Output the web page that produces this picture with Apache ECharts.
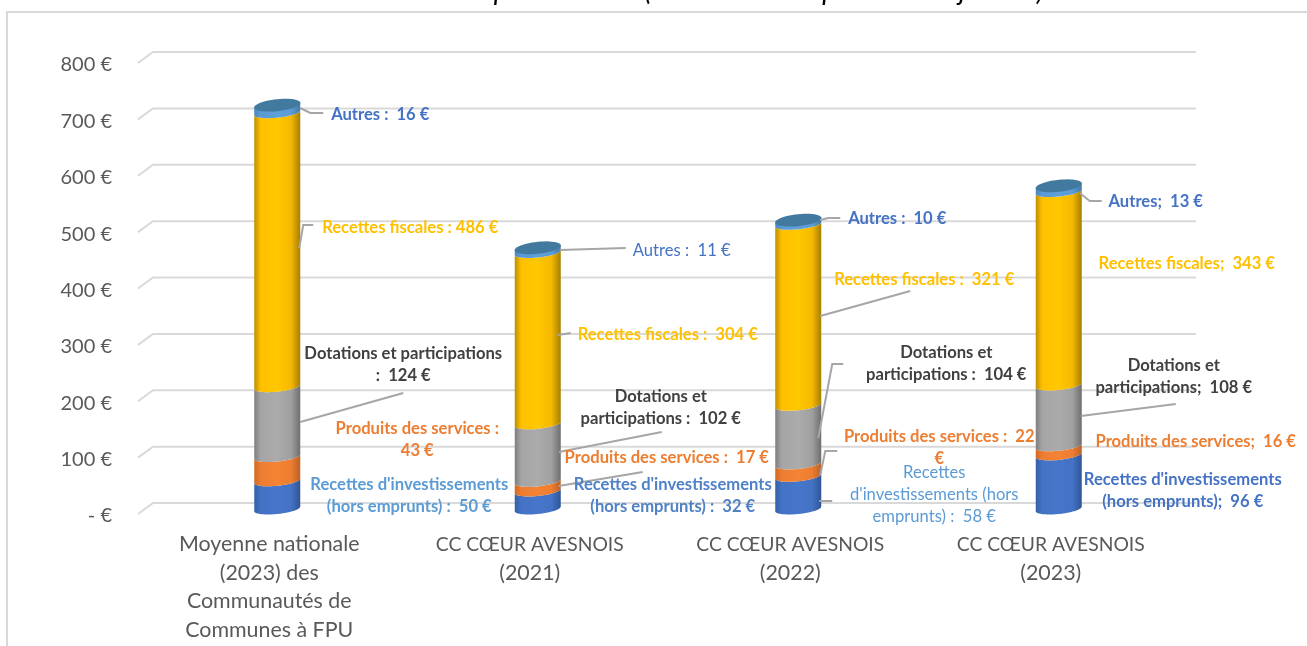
<!DOCTYPE html>
<html>
<head>
<meta charset="utf-8">
<style>
html, body { margin: 0; padding: 0; background: #fff; overflow: hidden; }
#chart { width: 1307px; height: 646px; }
</style>
<script src="https://cdn.jsdelivr.net/npm/echarts@6/dist/echarts.min.js"></script>
</head>
<body>
<div id="chart"></div>
<script>
const categories = [
    'Moyenne nationale\n(2023) des\nCommunautés de\nCommunes à FPU',
    'CC CŒUR AVESNOIS\n(2021)',
    'CC CŒUR AVESNOIS\n(2022)',
    'CC CŒUR AVESNOIS\n(2023)'
];
const yTicks = [0, 100, 200, 300, 400, 500, 600, 700, 800];
const investissements = [50, 32, 58, 96];
const produits = [43, 17, 22, 16];
const dotations = [124, 102, 104, 108];
const fiscales = [486, 304, 321, 343];
const autres = [16, 11, 10, 13];

const segments = [investissements, produits, dotations, fiscales, autres];
const segmentNames = ["Recettes d'investissements (hors emprunts)", 'Produits des services', 'Dotations et participations', 'Recettes fiscales', 'Autres'];
// left edge, left shade, centre, right shade, right edge
const segmentShades = [
    ['#3560a8', '#4472c4', '#4676ca', '#4472c4', '#2f5597'],
    ['#d06a24', '#ed7d31', '#f58334', '#ed7d31', '#b96226'],
    ['#7e7e7e', '#a5a5a5', '#ababab', '#a0a0a0', '#6e6e6e'],
    ['#bd8f00', '#ffc000', '#ffc800', '#f5b800', '#a67f00'],
    ['#4a86bd', '#5b9bd5', '#5fa0da', '#5b9bd5', '#437aa8']
];

const BLUE = '#4472c4', SKY = '#5b9bd5', ORANGE = '#ed7d31', YELLOW = '#ffc000', DARK = '#404040';

// label positions: offsets in px from the foot of each bar
const labelLayout = [
    { cat: 0, seg: 4, x: 103, y: -399, lines: ['Autres :  {v} €'], color: BLUE, weight: 'bold', leader: [[23, -406], [33, -401], [46, -401]] },
    { cat: 0, seg: 3, x: 133, y: -286, lines: ['Recettes fiscales : {v} €'], color: YELLOW, weight: 'bold', leader: [[22, -266], [26, -289], [36, -289]] },
    { cat: 0, seg: 2, x: 126, y: -160, lines: ['Dotations et participations', ':  {v} €'], color: DARK, weight: 'bold', leader: [[23, -92], [126, -121]] },
    { cat: 0, seg: 1, x: 140, y: -85, lines: ['Produits des services :', '{v} €'], color: ORANGE, weight: 'bold' },
    { cat: 0, seg: 0, x: 132, y: -29, lines: ["Recettes d'investissements", '(hors emprunts) :  {v} €'], color: SKY, weight: 'bold' },

    { cat: 1, seg: 4, x: 144, y: -263, lines: ['Autres :  {v} €'], color: BLUE, weight: 'normal', leader: [[22, -264], [88, -266]] },
    { cat: 1, seg: 3, x: 130, y: -179, lines: ['Recettes fiscales :  {v} €'], color: YELLOW, weight: 'bold', leader: [[20, -179], [33, -181]] },
    { cat: 1, seg: 2, x: 123, y: -117, lines: ['Dotations et', 'participations :  {v} €'], color: DARK, weight: 'bold', leader: [[21, -62], [124, -82]] },
    { cat: 1, seg: 1, x: 129, y: -56, lines: ['Produits des services :  {v} €'], color: ORANGE, weight: 'bold' },
    { cat: 1, seg: 0, x: 135, y: -29, lines: ["Recettes d'investissements", '(hors emprunts) :  {v} €'], color: '#4f81c7', weight: 'bold', leader: [[21, -28], [105, -42]] },

    { cat: 2, seg: 4, x: 99, y: -295, lines: ['Autres :  {v} €'], color: BLUE, weight: 'bold', leader: [[22, -294], [30, -296], [42, -296]] },
    { cat: 2, seg: 3, x: 126, y: -234, lines: ['Recettes fiscales :  {v} €'], color: YELLOW, weight: 'bold', leader: [[22, -198], [112, -223]] },
    { cat: 2, seg: 2, x: 148, y: -161, lines: ['Dotations et', 'participations :  {v} €'], color: DARK, weight: 'bold', leader: [[20, -76], [34, -150], [45, -150]] },
    { cat: 2, seg: 1, x: 141, y: -77, lines: ['Produits des services :  {v}', '€'], color: ORANGE, weight: 'bold', leader: [[22, -39], [27, -63], [39, -63]] },
    { cat: 2, seg: 0, x: 136, y: -41, lines: ['Recettes', "d'investissements (hors", 'emprunts) :  {v} €'], color: SKY, weight: 'normal', leader: [[21, -13], [34, -13]] },

    { cat: 3, seg: 4, x: 97, y: -312, lines: ['Autres;  {v} €'], color: BLUE, weight: 'bold', leader: [[21, -321], [31, -313], [43, -313]] },
    { cat: 3, seg: 3, x: 128, y: -250, lines: ['Recettes fiscales;  {v} €'], color: YELLOW, weight: 'bold' },
    { cat: 3, seg: 2, x: 115, y: -148, lines: ['Dotations et', 'participations;  {v} €'], color: DARK, weight: 'bold', leader: [[22, -98], [117, -110]] },
    { cat: 3, seg: 1, x: 137, y: -72, lines: ['Produits des services;  {v} €'], color: ORANGE, weight: 'bold' },
    { cat: 3, seg: 0, x: 124, y: -34, lines: ["Recettes d'investissements", '(hors emprunts);  {v} €'], color: BLUE, weight: 'bold' }
];

const chart = echarts.init(document.getElementById('chart'));

const RX = 23, RY = 5, TILT = 0.1;

function ellipsePoint(cx, cy, t, ry) {
    const c = Math.cos(t);
    return [cx + RX * c, cy + ry * Math.sin(t) - TILT * RX * c];
}

// bottom and top rim of one slice of the cylinder
function renderSegment(params, api) {
    const cat = api.value(0);
    const low = api.coord([cat, api.value(1)]);
    const high = api.coord([cat, api.value(2)]);
    const shades = segmentShades[params.seriesIndex - 1];
    const points = [];
    for (let i = 0; i <= 24; i++) {
        points.push(ellipsePoint(low[0], low[1] - RY, Math.PI * i / 24, RY));
    }
    for (let i = 24; i >= 0; i--) {
        points.push(ellipsePoint(high[0], high[1] - RY, Math.PI * i / 24, RY));
    }
    const children = [{
        type: 'polygon',
        shape: { points },
        style: {
            fill: new echarts.graphic.LinearGradient(0, 0, 1, 0, [
                { offset: 0, color: shades[0] },
                { offset: 0.14, color: shades[1] },
                { offset: 0.5, color: shades[2] },
                { offset: 0.8, color: shades[3] },
                { offset: 1, color: shades[4] }
            ])
        }
    }];
    if (params.seriesIndex === segments.length) {
        const lid = [];
        for (let i = 0; i < 48; i++) {
            lid.push(ellipsePoint(high[0], high[1] - 3.5, Math.PI * i / 24, 6));
        }
        children.push({ type: 'polygon', shape: { points: lid }, style: { fill: '#41799f' } });
    }
    return { type: 'group', children };
}

function renderGridLine(params, api) {
    const y = api.coord([0, api.value(0)])[1];
    const left = params.coordSys.x;
    const right = left + params.coordSys.width;
    return {
        type: 'polyline',
        shape: { points: [[left - 9, y], [left + 6, y - 11], [right + 7, y - 11]] },
        style: { fill: null, stroke: '#d9d9d9', lineWidth: 2 }
    };
}

function renderLeader(params, api) {
    const item = labelLayout[params.dataIndex];
    if (!item.leader) return null;
    const foot = api.coord([item.cat, 0]);
    return {
        type: 'polyline',
        shape: { points: item.leader.map(p => [foot[0] + p[0], foot[1] + p[1]]) },
        style: { fill: null, stroke: '#a6a6a6', lineWidth: 2 }
    };
}

function renderLabel(params, api) {
    const item = labelLayout[params.dataIndex];
    const foot = api.coord([item.cat, 0]);
    const value = segments[item.seg][item.cat];
    return {
        type: 'group',
        children: item.lines.map((line, i) => ({
            type: 'text',
            style: {
                x: foot[0] + item.x,
                y: foot[1] + item.y + i * 22,
                text: line.replace('{v}', value),
                textAlign: 'center',
                textVerticalAlign: 'middle',
                fill: item.color,
                font: item.weight + ' 16.6px Lato'
            }
        }))
    };
}

const series = [{
    type: 'custom',
    name: 'grille',
    renderItem: renderGridLine,
    silent: true,
    z: 1,
    data: yTicks.map(v => [v])
}];

segments.forEach((values, s) => {
    series.push({
        type: 'custom',
        name: segmentNames[s],
        renderItem: renderSegment,
        z: 3,
        encode: { x: 0, y: 2 },
        data: values.map((v, i) => {
            let start = 0;
            for (let k = 0; k < s; k++) start += segments[k][i];
            return [i, start, start + v];
        })
    });
});

series.push({
    type: 'custom',
    name: 'repères',
    renderItem: renderLeader,
    silent: true,
    z: 4,
    data: labelLayout.map(l => [l.cat])
});
series.push({
    type: 'custom',
    name: 'étiquettes',
    renderItem: renderLabel,
    silent: true,
    z: 5,
    data: labelLayout.map(l => [l.cat])
});

const option = {
    animation: false,
    title: {
        text: "Recettes par habitant (en € et en comptes au 1er janvier)",
        left: 712,
        top: -28,
        textAlign: 'center',
        textStyle: { fontFamily: 'Lato', fontSize: 28, fontStyle: 'italic', fontWeight: 'normal', color: '#000' }
    },
    graphic: [{
        type: 'rect',
        shape: { x: 7, y: 12, width: 1400, height: 800 },
        style: { fill: null, stroke: '#d9d9d9', lineWidth: 2 },
        silent: true,
        z: 0
    }],
    grid: { left: 147, right: 118, top: 63, bottom: 132 },
    xAxis: {
        type: 'category',
        data: categories,
        axisLine: { show: false },
        axisTick: { show: false },
        axisLabel: {
            interval: 0,
            margin: 16,
            padding: [0, 16, 0, 0],
            color: '#595959',
            // the CC names are set a bit tighter than the rest
            formatter: v => v.split('\n').map(l => (l.indexOf('CC ') === 0 ? '{tight|' : '{wide|') + l + '}').join('\n'),
            rich: {
                wide: { fontFamily: 'Lato', fontSize: 21.4, lineHeight: 28.6, color: '#595959' },
                tight: { fontFamily: 'Lato', fontSize: 19.3, lineHeight: 28.6, color: '#595959' }
            }
        }
    },
    yAxis: {
        type: 'value',
        min: 0,
        max: 800,
        interval: 100,
        axisLine: { show: false },
        axisTick: { show: false },
        splitLine: { show: false },
        axisLabel: {
            margin: 35,
            formatter: v => '{tick|' + (v === 0 ? '- €' : v + ' €') + '}',
            rich: {
                tick: { fontFamily: 'Lato', fontSize: 20, color: '#595959', padding: [4, 0, 0, 0] }
            }
        }
    },
    series
};

chart.setOption(option);

window.addEventListener('resize', _ => {
    chart.resize();
});
</script>
</body>
</html>
